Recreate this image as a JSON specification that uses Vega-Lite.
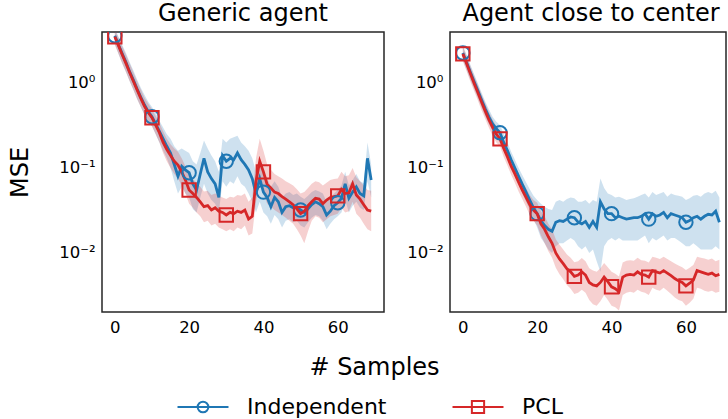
{
"$schema": "https://vega.github.io/schema/vega-lite/v6.json",
"padding": {"left": 7, "top": 1, "right": 0, "bottom": 0},
"config": {
  "font": "DejaVu Sans",
  "view": {"stroke": "#262626", "strokeWidth": 1.5},
  "title": {"fontSize": 24, "fontWeight": "normal", "baseline": "alphabetic", "offset": 6, "frame": "group", "color": "black", "anchor": "middle"},
  "axis": {"ticks": false, "domain": false, "grid": false, "labelFontSize": 16.5, "labelColor": "black", "titleColor": "black", "titleFontSize": 24, "titleFontWeight": "normal", "labelPadding": 7}
},
"datasets": {
"generic": [
{"m":"Independent","x":0,"y":3.6,"lo":2.9,"hi":4.4},{"m":"Independent","x":1,"y":2.8,"lo":2.2,"hi":3.5},{"m":"Independent","x":2,"y":2.2,"lo":1.7,"hi":2.8},{"m":"Independent","x":3,"y":1.75,"lo":1.35,"hi":2.25},{"m":"Independent","x":4,"y":1.35,"lo":1.05,"hi":1.75},{"m":"Independent","x":5,"y":1.08,"lo":0.83,"hi":1.4},{"m":"Independent","x":6,"y":0.85,"lo":0.65,"hi":1.1},{"m":"Independent","x":7,"y":0.68,"lo":0.52,"hi":0.88},{"m":"Independent","x":8,"y":0.55,"lo":0.42,"hi":0.72},{"m":"Independent","x":9,"y":0.46,"lo":0.35,"hi":0.6},
{"m":"Independent","x":10,"y":0.4,"lo":0.31,"hi":0.52},{"m":"Independent","x":11,"y":0.33,"lo":0.25,"hi":0.44},{"m":"Independent","x":12,"y":0.27,"lo":0.2,"hi":0.36},{"m":"Independent","x":13,"y":0.22,"lo":0.16,"hi":0.3},{"m":"Independent","x":14,"y":0.18,"lo":0.13,"hi":0.25},{"m":"Independent","x":15,"y":0.15,"lo":0.1,"hi":0.22},{"m":"Independent","x":16,"y":0.11,"lo":0.07,"hi":0.18},{"m":"Independent","x":17,"y":0.08,"lo":0.05,"hi":0.16},{"m":"Independent","x":18,"y":0.105,"lo":0.06,"hi":0.17},{"m":"Independent","x":19,"y":0.095,"lo":0.05,"hi":0.16},
{"m":"Independent","x":20,"y":0.088,"lo":0.045,"hi":0.15},{"m":"Independent","x":21,"y":0.065,"lo":0.033,"hi":0.12},{"m":"Independent","x":22,"y":0.055,"lo":0.03,"hi":0.11},{"m":"Independent","x":23,"y":0.085,"lo":0.045,"hi":0.15},{"m":"Independent","x":24,"y":0.13,"lo":0.065,"hi":0.21},{"m":"Independent","x":25,"y":0.09,"lo":0.05,"hi":0.17},{"m":"Independent","x":26,"y":0.075,"lo":0.042,"hi":0.14},{"m":"Independent","x":27,"y":0.065,"lo":0.038,"hi":0.12},{"m":"Independent","x":28,"y":0.045,"lo":0.03,"hi":0.09},{"m":"Independent","x":29,"y":0.14,"lo":0.07,"hi":0.22},
{"m":"Independent","x":30,"y":0.12,"lo":0.06,"hi":0.2},{"m":"Independent","x":31,"y":0.13,"lo":0.07,"hi":0.22},{"m":"Independent","x":32,"y":0.125,"lo":0.065,"hi":0.23},{"m":"Independent","x":33,"y":0.15,"lo":0.08,"hi":0.24},{"m":"Independent","x":34,"y":0.125,"lo":0.065,"hi":0.2},{"m":"Independent","x":35,"y":0.11,"lo":0.06,"hi":0.18},{"m":"Independent","x":36,"y":0.095,"lo":0.05,"hi":0.16},{"m":"Independent","x":37,"y":0.075,"lo":0.04,"hi":0.13},{"m":"Independent","x":38,"y":0.05,"lo":0.03,"hi":0.09},{"m":"Independent","x":39,"y":0.075,"lo":0.04,"hi":0.12},
{"m":"Independent","x":40,"y":0.052,"lo":0.03,"hi":0.09},{"m":"Independent","x":41,"y":0.045,"lo":0.027,"hi":0.075},{"m":"Independent","x":42,"y":0.035,"lo":0.022,"hi":0.06},{"m":"Independent","x":43,"y":0.045,"lo":0.028,"hi":0.07},{"m":"Independent","x":44,"y":0.04,"lo":0.025,"hi":0.06},{"m":"Independent","x":45,"y":0.03,"lo":0.02,"hi":0.045},{"m":"Independent","x":46,"y":0.035,"lo":0.024,"hi":0.05},{"m":"Independent","x":47,"y":0.036,"lo":0.025,"hi":0.052},{"m":"Independent","x":48,"y":0.034,"lo":0.023,"hi":0.048},{"m":"Independent","x":49,"y":0.035,"lo":0.024,"hi":0.05},
{"m":"Independent","x":50,"y":0.032,"lo":0.021,"hi":0.046},{"m":"Independent","x":51,"y":0.03,"lo":0.02,"hi":0.043},{"m":"Independent","x":52,"y":0.033,"lo":0.023,"hi":0.047},{"m":"Independent","x":53,"y":0.037,"lo":0.026,"hi":0.052},{"m":"Independent","x":54,"y":0.04,"lo":0.028,"hi":0.055},{"m":"Independent","x":55,"y":0.038,"lo":0.027,"hi":0.053},{"m":"Independent","x":56,"y":0.035,"lo":0.024,"hi":0.05},{"m":"Independent","x":57,"y":0.028,"lo":0.019,"hi":0.04},{"m":"Independent","x":58,"y":0.031,"lo":0.022,"hi":0.045},{"m":"Independent","x":59,"y":0.036,"lo":0.025,"hi":0.05},
{"m":"Independent","x":60,"y":0.039,"lo":0.027,"hi":0.055},{"m":"Independent","x":61,"y":0.044,"lo":0.03,"hi":0.062},{"m":"Independent","x":62,"y":0.065,"lo":0.042,"hi":0.09},{"m":"Independent","x":63,"y":0.044,"lo":0.03,"hi":0.062},{"m":"Independent","x":64,"y":0.052,"lo":0.036,"hi":0.072},{"m":"Independent","x":65,"y":0.06,"lo":0.04,"hi":0.085},{"m":"Independent","x":66,"y":0.05,"lo":0.034,"hi":0.07},{"m":"Independent","x":67,"y":0.047,"lo":0.032,"hi":0.066},{"m":"Independent","x":68,"y":0.13,"lo":0.07,"hi":0.2},{"m":"Independent","x":69,"y":0.072,"lo":0.045,"hi":0.11},
{"m":"PCL","x":0,"y":3.5,"lo":2.8,"hi":4.3},{"m":"PCL","x":1,"y":2.75,"lo":2.2,"hi":3.4},{"m":"PCL","x":2,"y":2.15,"lo":1.7,"hi":2.7},{"m":"PCL","x":3,"y":1.7,"lo":1.35,"hi":2.15},{"m":"PCL","x":4,"y":1.33,"lo":1.05,"hi":1.7},{"m":"PCL","x":5,"y":1.05,"lo":0.83,"hi":1.33},{"m":"PCL","x":6,"y":0.83,"lo":0.65,"hi":1.05},{"m":"PCL","x":7,"y":0.66,"lo":0.52,"hi":0.84},{"m":"PCL","x":8,"y":0.53,"lo":0.42,"hi":0.67},{"m":"PCL","x":9,"y":0.45,"lo":0.35,"hi":0.57},
{"m":"PCL","x":10,"y":0.39,"lo":0.31,"hi":0.49},{"m":"PCL","x":11,"y":0.32,"lo":0.25,"hi":0.41},{"m":"PCL","x":12,"y":0.26,"lo":0.2,"hi":0.34},{"m":"PCL","x":13,"y":0.2,"lo":0.15,"hi":0.27},{"m":"PCL","x":14,"y":0.165,"lo":0.12,"hi":0.22},{"m":"PCL","x":15,"y":0.14,"lo":0.1,"hi":0.19},{"m":"PCL","x":16,"y":0.12,"lo":0.085,"hi":0.17},{"m":"PCL","x":17,"y":0.108,"lo":0.075,"hi":0.155},{"m":"PCL","x":18,"y":0.09,"lo":0.062,"hi":0.13},{"m":"PCL","x":19,"y":0.072,"lo":0.05,"hi":0.105},
{"m":"PCL","x":20,"y":0.055,"lo":0.038,"hi":0.08},{"m":"PCL","x":21,"y":0.05,"lo":0.034,"hi":0.074},{"m":"PCL","x":22,"y":0.045,"lo":0.03,"hi":0.067},{"m":"PCL","x":23,"y":0.04,"lo":0.027,"hi":0.06},{"m":"PCL","x":24,"y":0.035,"lo":0.023,"hi":0.053},{"m":"PCL","x":25,"y":0.036,"lo":0.024,"hi":0.054},{"m":"PCL","x":26,"y":0.032,"lo":0.021,"hi":0.048},{"m":"PCL","x":27,"y":0.034,"lo":0.022,"hi":0.05},{"m":"PCL","x":28,"y":0.031,"lo":0.02,"hi":0.047},{"m":"PCL","x":29,"y":0.03,"lo":0.019,"hi":0.045},
{"m":"PCL","x":30,"y":0.028,"lo":0.018,"hi":0.043},{"m":"PCL","x":31,"y":0.03,"lo":0.019,"hi":0.046},{"m":"PCL","x":32,"y":0.029,"lo":0.018,"hi":0.045},{"m":"PCL","x":33,"y":0.031,"lo":0.02,"hi":0.048},{"m":"PCL","x":34,"y":0.03,"lo":0.019,"hi":0.047},{"m":"PCL","x":35,"y":0.032,"lo":0.021,"hi":0.05},{"m":"PCL","x":36,"y":0.025,"lo":0.016,"hi":0.04},{"m":"PCL","x":37,"y":0.027,"lo":0.017,"hi":0.045},{"m":"PCL","x":38,"y":0.07,"lo":0.04,"hi":0.13},{"m":"PCL","x":39,"y":0.12,"lo":0.065,"hi":0.22},
{"m":"PCL","x":40,"y":0.09,"lo":0.05,"hi":0.16},{"m":"PCL","x":41,"y":0.064,"lo":0.038,"hi":0.11},{"m":"PCL","x":42,"y":0.058,"lo":0.035,"hi":0.095},{"m":"PCL","x":43,"y":0.052,"lo":0.032,"hi":0.085},{"m":"PCL","x":44,"y":0.05,"lo":0.03,"hi":0.08},{"m":"PCL","x":45,"y":0.046,"lo":0.028,"hi":0.075},{"m":"PCL","x":46,"y":0.043,"lo":0.026,"hi":0.07},{"m":"PCL","x":47,"y":0.04,"lo":0.024,"hi":0.066},{"m":"PCL","x":48,"y":0.037,"lo":0.022,"hi":0.062},{"m":"PCL","x":49,"y":0.033,"lo":0.019,"hi":0.056},
{"m":"PCL","x":50,"y":0.029,"lo":0.016,"hi":0.05},{"m":"PCL","x":51,"y":0.031,"lo":0.013,"hi":0.052},{"m":"PCL","x":52,"y":0.036,"lo":0.018,"hi":0.058},{"m":"PCL","x":53,"y":0.04,"lo":0.024,"hi":0.065},{"m":"PCL","x":54,"y":0.044,"lo":0.027,"hi":0.07},{"m":"PCL","x":55,"y":0.043,"lo":0.026,"hi":0.068},{"m":"PCL","x":56,"y":0.038,"lo":0.023,"hi":0.062},{"m":"PCL","x":57,"y":0.042,"lo":0.025,"hi":0.067},{"m":"PCL","x":58,"y":0.045,"lo":0.027,"hi":0.072},{"m":"PCL","x":59,"y":0.046,"lo":0.028,"hi":0.074},
{"m":"PCL","x":60,"y":0.047,"lo":0.029,"hi":0.075},{"m":"PCL","x":61,"y":0.056,"lo":0.034,"hi":0.09},{"m":"PCL","x":62,"y":0.05,"lo":0.03,"hi":0.08},{"m":"PCL","x":63,"y":0.051,"lo":0.031,"hi":0.082},{"m":"PCL","x":64,"y":0.065,"lo":0.04,"hi":0.1},{"m":"PCL","x":65,"y":0.048,"lo":0.029,"hi":0.078},{"m":"PCL","x":66,"y":0.043,"lo":0.026,"hi":0.07},{"m":"PCL","x":67,"y":0.037,"lo":0.022,"hi":0.062},{"m":"PCL","x":68,"y":0.032,"lo":0.019,"hi":0.055},{"m":"PCL","x":69,"y":0.031,"lo":0.018,"hi":0.054}
],
"center": [
{"m":"Independent","x":0,"y":2.25,"lo":1.85,"hi":2.75},{"m":"Independent","x":1,"y":1.75,"lo":1.43,"hi":2.15},{"m":"Independent","x":2,"y":1.35,"lo":1.1,"hi":1.65},{"m":"Independent","x":3,"y":1.05,"lo":0.86,"hi":1.28},{"m":"Independent","x":4,"y":0.82,"lo":0.67,"hi":1.0},{"m":"Independent","x":5,"y":0.64,"lo":0.52,"hi":0.78},{"m":"Independent","x":6,"y":0.5,"lo":0.41,"hi":0.61},{"m":"Independent","x":7,"y":0.4,"lo":0.33,"hi":0.49},{"m":"Independent","x":8,"y":0.33,"lo":0.27,"hi":0.4},{"m":"Independent","x":9,"y":0.29,"lo":0.24,"hi":0.35},
{"m":"Independent","x":10,"y":0.26,"lo":0.21,"hi":0.32},{"m":"Independent","x":11,"y":0.2,"lo":0.16,"hi":0.25},{"m":"Independent","x":12,"y":0.16,"lo":0.13,"hi":0.2},{"m":"Independent","x":13,"y":0.125,"lo":0.1,"hi":0.155},{"m":"Independent","x":14,"y":0.1,"lo":0.08,"hi":0.125},{"m":"Independent","x":15,"y":0.08,"lo":0.064,"hi":0.1},{"m":"Independent","x":16,"y":0.064,"lo":0.05,"hi":0.082},{"m":"Independent","x":17,"y":0.052,"lo":0.04,"hi":0.068},{"m":"Independent","x":18,"y":0.042,"lo":0.032,"hi":0.056},{"m":"Independent","x":19,"y":0.034,"lo":0.025,"hi":0.047},
{"m":"Independent","x":20,"y":0.029,"lo":0.02,"hi":0.042},{"m":"Independent","x":21,"y":0.024,"lo":0.015,"hi":0.038},{"m":"Independent","x":22,"y":0.021,"lo":0.013,"hi":0.035},{"m":"Independent","x":23,"y":0.019,"lo":0.011,"hi":0.033},{"m":"Independent","x":24,"y":0.018,"lo":0.01,"hi":0.032},{"m":"Independent","x":25,"y":0.023,"lo":0.012,"hi":0.04},{"m":"Independent","x":26,"y":0.024,"lo":0.013,"hi":0.042},{"m":"Independent","x":27,"y":0.0235,"lo":0.013,"hi":0.04},{"m":"Independent","x":28,"y":0.025,"lo":0.014,"hi":0.043},{"m":"Independent","x":29,"y":0.0265,"lo":0.015,"hi":0.045},
{"m":"Independent","x":30,"y":0.026,"lo":0.014,"hi":0.044},{"m":"Independent","x":31,"y":0.023,"lo":0.012,"hi":0.04},{"m":"Independent","x":32,"y":0.022,"lo":0.011,"hi":0.04},{"m":"Independent","x":33,"y":0.0235,"lo":0.012,"hi":0.042},{"m":"Independent","x":34,"y":0.02,"lo":0.01,"hi":0.038},{"m":"Independent","x":35,"y":0.0235,"lo":0.011,"hi":0.042},{"m":"Independent","x":36,"y":0.02,"lo":0.008,"hi":0.04},{"m":"Independent","x":37,"y":0.04,"lo":0.006,"hi":0.075},{"m":"Independent","x":38,"y":0.033,"lo":0.012,"hi":0.058},{"m":"Independent","x":39,"y":0.029,"lo":0.014,"hi":0.05},
{"m":"Independent","x":40,"y":0.029,"lo":0.015,"hi":0.048},{"m":"Independent","x":41,"y":0.026,"lo":0.014,"hi":0.045},{"m":"Independent","x":42,"y":0.027,"lo":0.015,"hi":0.046},{"m":"Independent","x":43,"y":0.026,"lo":0.014,"hi":0.044},{"m":"Independent","x":44,"y":0.025,"lo":0.014,"hi":0.042},{"m":"Independent","x":45,"y":0.0255,"lo":0.014,"hi":0.043},{"m":"Independent","x":46,"y":0.026,"lo":0.014,"hi":0.044},{"m":"Independent","x":47,"y":0.026,"lo":0.014,"hi":0.046},{"m":"Independent","x":48,"y":0.027,"lo":0.015,"hi":0.048},{"m":"Independent","x":49,"y":0.029,"lo":0.016,"hi":0.05},
{"m":"Independent","x":50,"y":0.025,"lo":0.013,"hi":0.045},{"m":"Independent","x":51,"y":0.029,"lo":0.015,"hi":0.052},{"m":"Independent","x":52,"y":0.027,"lo":0.014,"hi":0.048},{"m":"Independent","x":53,"y":0.028,"lo":0.015,"hi":0.05},{"m":"Independent","x":54,"y":0.03,"lo":0.016,"hi":0.052},{"m":"Independent","x":55,"y":0.026,"lo":0.014,"hi":0.046},{"m":"Independent","x":56,"y":0.029,"lo":0.015,"hi":0.05},{"m":"Independent","x":57,"y":0.028,"lo":0.015,"hi":0.048},{"m":"Independent","x":58,"y":0.027,"lo":0.014,"hi":0.047},{"m":"Independent","x":59,"y":0.026,"lo":0.013,"hi":0.046},
{"m":"Independent","x":60,"y":0.023,"lo":0.012,"hi":0.042},{"m":"Independent","x":61,"y":0.024,"lo":0.012,"hi":0.044},{"m":"Independent","x":62,"y":0.026,"lo":0.013,"hi":0.047},{"m":"Independent","x":63,"y":0.027,"lo":0.012,"hi":0.048},{"m":"Independent","x":64,"y":0.025,"lo":0.011,"hi":0.046},{"m":"Independent","x":65,"y":0.027,"lo":0.011,"hi":0.05},{"m":"Independent","x":66,"y":0.0285,"lo":0.011,"hi":0.052},{"m":"Independent","x":67,"y":0.028,"lo":0.011,"hi":0.05},{"m":"Independent","x":68,"y":0.031,"lo":0.012,"hi":0.054},{"m":"Independent","x":69,"y":0.023,"lo":0.011,"hi":0.045},
{"m":"PCL","x":0,"y":2.2,"lo":1.8,"hi":2.7},{"m":"PCL","x":1,"y":1.7,"lo":1.38,"hi":2.1},{"m":"PCL","x":2,"y":1.3,"lo":1.05,"hi":1.6},{"m":"PCL","x":3,"y":1.0,"lo":0.81,"hi":1.23},{"m":"PCL","x":4,"y":0.78,"lo":0.63,"hi":0.96},{"m":"PCL","x":5,"y":0.6,"lo":0.48,"hi":0.74},{"m":"PCL","x":6,"y":0.47,"lo":0.38,"hi":0.58},{"m":"PCL","x":7,"y":0.37,"lo":0.3,"hi":0.46},{"m":"PCL","x":8,"y":0.3,"lo":0.24,"hi":0.37},{"m":"PCL","x":9,"y":0.25,"lo":0.2,"hi":0.31},
{"m":"PCL","x":10,"y":0.22,"lo":0.18,"hi":0.27},{"m":"PCL","x":11,"y":0.17,"lo":0.135,"hi":0.21},{"m":"PCL","x":12,"y":0.135,"lo":0.107,"hi":0.17},{"m":"PCL","x":13,"y":0.105,"lo":0.083,"hi":0.133},{"m":"PCL","x":14,"y":0.085,"lo":0.067,"hi":0.108},{"m":"PCL","x":15,"y":0.068,"lo":0.053,"hi":0.087},{"m":"PCL","x":16,"y":0.055,"lo":0.043,"hi":0.07},{"m":"PCL","x":17,"y":0.045,"lo":0.035,"hi":0.058},{"m":"PCL","x":18,"y":0.037,"lo":0.028,"hi":0.048},{"m":"PCL","x":19,"y":0.032,"lo":0.024,"hi":0.042},
{"m":"PCL","x":20,"y":0.029,"lo":0.021,"hi":0.039},{"m":"PCL","x":21,"y":0.022,"lo":0.016,"hi":0.031},{"m":"PCL","x":22,"y":0.019,"lo":0.013,"hi":0.027},{"m":"PCL","x":23,"y":0.0155,"lo":0.0105,"hi":0.022},{"m":"PCL","x":24,"y":0.013,"lo":0.0088,"hi":0.019},{"m":"PCL","x":25,"y":0.01,"lo":0.0067,"hi":0.0145},{"m":"PCL","x":26,"y":0.0085,"lo":0.0056,"hi":0.0125},{"m":"PCL","x":27,"y":0.0075,"lo":0.0049,"hi":0.011},{"m":"PCL","x":28,"y":0.0065,"lo":0.0042,"hi":0.0096},{"m":"PCL","x":29,"y":0.006,"lo":0.0038,"hi":0.0088},
{"m":"PCL","x":30,"y":0.0053,"lo":0.0033,"hi":0.0078},{"m":"PCL","x":31,"y":0.0055,"lo":0.0034,"hi":0.008},{"m":"PCL","x":32,"y":0.006,"lo":0.0037,"hi":0.0087},{"m":"PCL","x":33,"y":0.0055,"lo":0.0034,"hi":0.008},{"m":"PCL","x":34,"y":0.0045,"lo":0.0028,"hi":0.0066},{"m":"PCL","x":35,"y":0.0042,"lo":0.0025,"hi":0.0062},{"m":"PCL","x":36,"y":0.0041,"lo":0.0024,"hi":0.006},{"m":"PCL","x":37,"y":0.0045,"lo":0.0027,"hi":0.0066},{"m":"PCL","x":38,"y":0.0052,"lo":0.0032,"hi":0.0076},{"m":"PCL","x":39,"y":0.0046,"lo":0.0028,"hi":0.0068},
{"m":"PCL","x":40,"y":0.004,"lo":0.0024,"hi":0.006},{"m":"PCL","x":41,"y":0.0038,"lo":0.0023,"hi":0.0057},{"m":"PCL","x":42,"y":0.0035,"lo":0.0021,"hi":0.0053},{"m":"PCL","x":43,"y":0.0052,"lo":0.0032,"hi":0.0077},{"m":"PCL","x":44,"y":0.0055,"lo":0.0034,"hi":0.0081},{"m":"PCL","x":45,"y":0.0056,"lo":0.0035,"hi":0.0082},{"m":"PCL","x":46,"y":0.0055,"lo":0.0034,"hi":0.0081},{"m":"PCL","x":47,"y":0.006,"lo":0.0037,"hi":0.0088},{"m":"PCL","x":48,"y":0.0056,"lo":0.0035,"hi":0.0082},{"m":"PCL","x":49,"y":0.0055,"lo":0.0034,"hi":0.0081},
{"m":"PCL","x":50,"y":0.0052,"lo":0.0032,"hi":0.0077},{"m":"PCL","x":51,"y":0.0062,"lo":0.0039,"hi":0.009},{"m":"PCL","x":52,"y":0.006,"lo":0.0037,"hi":0.0088},{"m":"PCL","x":53,"y":0.0058,"lo":0.0036,"hi":0.0085},{"m":"PCL","x":54,"y":0.0062,"lo":0.0039,"hi":0.009},{"m":"PCL","x":55,"y":0.0058,"lo":0.0036,"hi":0.0085},{"m":"PCL","x":56,"y":0.0054,"lo":0.0033,"hi":0.008},{"m":"PCL","x":57,"y":0.005,"lo":0.003,"hi":0.0075},{"m":"PCL","x":58,"y":0.0047,"lo":0.0028,"hi":0.0071},{"m":"PCL","x":59,"y":0.0045,"lo":0.0027,"hi":0.0068},
{"m":"PCL","x":60,"y":0.0041,"lo":0.0024,"hi":0.0063},{"m":"PCL","x":61,"y":0.0044,"lo":0.0026,"hi":0.0067},{"m":"PCL","x":62,"y":0.0048,"lo":0.0029,"hi":0.0072},{"m":"PCL","x":63,"y":0.0062,"lo":0.0039,"hi":0.009},{"m":"PCL","x":64,"y":0.006,"lo":0.0038,"hi":0.0088},{"m":"PCL","x":65,"y":0.0058,"lo":0.0036,"hi":0.0086},{"m":"PCL","x":66,"y":0.0056,"lo":0.0035,"hi":0.0083},{"m":"PCL","x":67,"y":0.0058,"lo":0.0036,"hi":0.0086},{"m":"PCL","x":68,"y":0.0054,"lo":0.0034,"hi":0.008},{"m":"PCL","x":69,"y":0.0056,"lo":0.0035,"hi":0.0083}
]
},
"spacing": 66,
"bounds": "flush",
"hconcat": [
{
  "width": 282, "height": 280,
  "title": {"text": "Generic agent"},
  "data": {"name": "generic"},
  "encoding": {
    "x": {"field": "x", "type": "quantitative", "scale": {"domain": [-3.45, 72.45], "nice": false, "zero": false},
          "axis": {"title": "# Samples", "titleX": 272, "titleY": 55, "titleBaseline": "middle", "titleAlign": "center", "values": [0, 20, 40, 60]}},
    "y": {"field": "y", "type": "quantitative", "scale": {"type": "log", "domain": [0.00202, 3.98], "nice": false},
          "axis": {"title": "MSE", "titleX": -75, "titleY": 140, "titleAngle": -90, "titleBaseline": "alphabetic", "titleAlign": "center", "values": [0.01, 0.1, 1], "labelExpr": "datum.value >= 0.5 ? '10⁰' : datum.value >= 0.05 ? '10⁻¹' : '10⁻²'"}}
  },
  "layer": [
    {"transform": [{"filter": "datum.m === 'Independent'"}],
     "mark": {"type": "area", "color": "#1f77b4", "opacity": 0.22, "clip": true},
     "encoding": {"y": {"field": "lo", "type": "quantitative"}, "y2": {"field": "hi"}}},
    {"transform": [{"filter": "datum.m === 'PCL'"}],
     "mark": {"type": "area", "color": "#d62728", "opacity": 0.22, "clip": true},
     "encoding": {"y": {"field": "lo", "type": "quantitative"}, "y2": {"field": "hi"}}},
    {"mark": {"type": "line", "strokeWidth": 2.8, "clip": true},
     "encoding": {
       "color": {"field": "m", "type": "nominal", "scale": {"domain": ["Independent", "PCL"], "range": ["#1f77b4", "#d62728"]},
         "legend": {"orient": "none", "legendX": 87, "legendY": 361, "direction": "horizontal", "title": null, "symbolSize": 650, "symbolStrokeWidth": 2, "symbolFillColor": "transparent", "labelFontSize": 22, "labelColor": "black", "labelOffset": 30, "columnPadding": 61, "padding": 0,
           "encode": {"symbols": {"update": {"shape": {"signal": "datum.value === 'Independent' ? 'M-2,0H2M-0.42,0A0.42,0.42 0 1 1 0.42,0A0.42,0.42 0 1 1 -0.42,0' : 'M-2,0H2M-0.48,-0.48H0.48V0.48H-0.48Z'"}, "fill": {"value": "transparent"}, "strokeWidth": {"value": 2}}}}}}
     }},
    {"transform": [{"filter": "datum.x % 10 === 0 && datum.m === 'Independent'"}],
     "mark": {"type": "point", "shape": "circle", "filled": false, "color": "#1f77b4", "strokeWidth": 2, "size": 180, "opacity": 1, "clip": true},
     "encoding": {}},
    {"transform": [{"filter": "datum.x % 10 === 0 && datum.m === 'PCL'"}],
     "mark": {"type": "point", "shape": "square", "filled": false, "color": "#d62728", "strokeWidth": 2, "size": 180, "opacity": 1, "clip": true},
     "encoding": {}}
  ]
},
{
  "width": 276, "height": 280,
  "title": {"text": "Agent close to center", "dx": 3},
  "data": {"name": "center"},
  "encoding": {
    "x": {"field": "x", "type": "quantitative", "scale": {"domain": [-3.45, 70.78], "nice": false, "zero": false},
          "axis": {"title": null, "values": [0, 20, 40, 60]}},
    "y": {"field": "y", "type": "quantitative", "scale": {"type": "log", "domain": [0.00202, 3.98], "nice": false},
          "axis": {"title": null, "values": [0.01, 0.1, 1], "labelExpr": "datum.value >= 0.5 ? '10⁰' : datum.value >= 0.05 ? '10⁻¹' : '10⁻²'"}}
  },
  "layer": [
    {"transform": [{"filter": "datum.m === 'Independent'"}],
     "mark": {"type": "area", "color": "#1f77b4", "opacity": 0.22, "clip": true},
     "encoding": {"y": {"field": "lo", "type": "quantitative"}, "y2": {"field": "hi"}}},
    {"transform": [{"filter": "datum.m === 'PCL'"}],
     "mark": {"type": "area", "color": "#d62728", "opacity": 0.22, "clip": true},
     "encoding": {"y": {"field": "lo", "type": "quantitative"}, "y2": {"field": "hi"}}},
    {"mark": {"type": "line", "strokeWidth": 2.8, "clip": true},
     "encoding": {
       "color": {"field": "m", "type": "nominal", "scale": {"domain": ["Independent", "PCL"], "range": ["#1f77b4", "#d62728"]},
         "legend": {"orient": "none", "legendX": 87, "legendY": 361, "direction": "horizontal", "title": null}}
     }},
    {"transform": [{"filter": "datum.x % 10 === 0 && datum.m === 'Independent'"}],
     "mark": {"type": "point", "shape": "circle", "filled": false, "color": "#1f77b4", "strokeWidth": 2, "size": 180, "opacity": 1, "clip": true},
     "encoding": {}},
    {"transform": [{"filter": "datum.x % 10 === 0 && datum.m === 'PCL'"}],
     "mark": {"type": "point", "shape": "square", "filled": false, "color": "#d62728", "strokeWidth": 2, "size": 180, "opacity": 1, "clip": true},
     "encoding": {}}
  ]
}
]
}
